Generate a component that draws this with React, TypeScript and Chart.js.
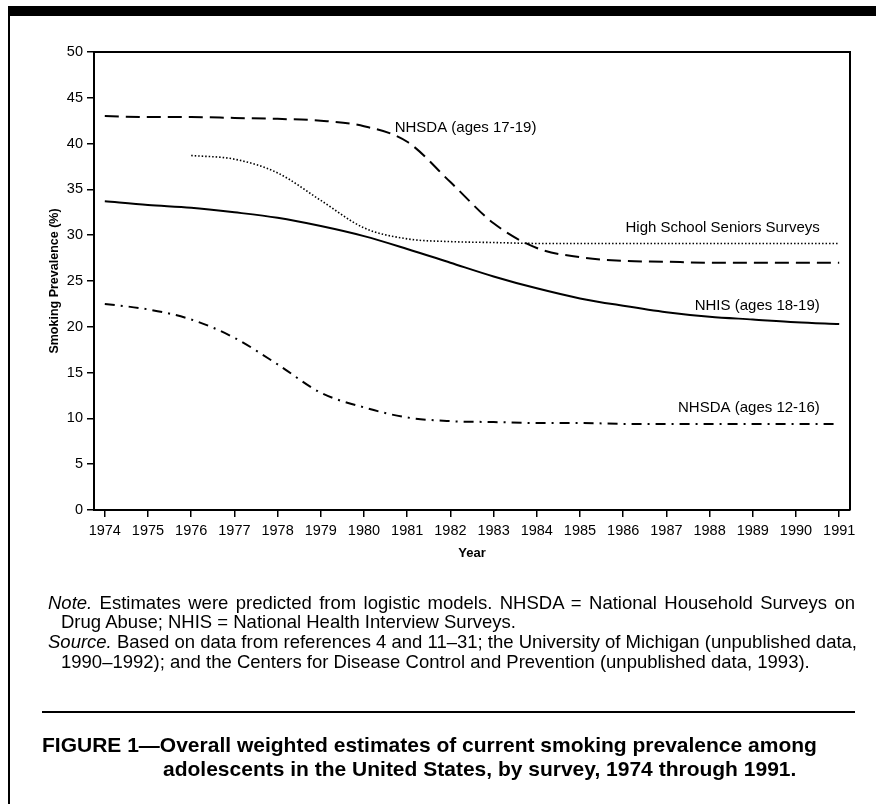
import React, { useEffect, useRef } from "react";
import { Chart, registerables } from "chart.js";

Chart.register(...registerables);

// ---------- data ----------
const years = [1974, 1975, 1976, 1977, 1978, 1979, 1980, 1981, 1982, 1983, 1984, 1985, 1986, 1987, 1988, 1989, 1990, 1991];
const hsYears = [1976, 1977, 1978, 1979, 1980, 1981, 1982, 1983, 1984, 1985, 1986, 1987, 1988, 1989, 1990, 1991];

const nhsda1719 = [43.0, 42.9, 42.9, 42.8, 42.7, 42.5, 41.9, 40.2, 35.8, 31.3, 28.6, 27.6, 27.2, 27.1, 27.0, 27.0, 27.0, 27.0];
const hsSeniors = [38.7, 38.3, 36.8, 33.8, 30.8, 29.6, 29.3, 29.2, 29.1, 29.1, 29.1, 29.1, 29.1, 29.1, 29.1, 29.1];
const nhis = [33.7, 33.3, 33.0, 32.5, 31.9, 31.0, 29.9, 28.5, 27.0, 25.5, 24.2, 23.1, 22.3, 21.6, 21.1, 20.8, 20.5, 20.3];
const nhsda1216 = [22.5, 21.9, 20.8, 18.8, 15.9, 12.8, 11.2, 10.1, 9.7, 9.6, 9.5, 9.5, 9.4, 9.4, 9.4, 9.4, 9.4, 9.4];

const yTickValues = [0, 5, 10, 15, 20, 25, 30, 35, 40, 45, 50];
const seriesNames = ["NHSDA (ages 17-19)", "High School Seniors Surveys", "NHIS (ages 18-19)", "NHSDA (ages 12-16)"];

// label anchors (data units) for the in-chart series labels
const labelAnchors = [
  { x: 1982.35, y: 41.7, align: "center" },
  { x: 1990.55, y: 30.8, align: "right" },
  { x: 1990.55, y: 22.3, align: "right" },
  { x: 1990.55, y: 11.2, align: "right" },
];

const FONT = "'Liberation Sans', Arial, Helvetica, sans-serif";

const toPoints = (xs: number[], ys: number[]) => xs.map((x, i) => ({ x, y: ys[i] }));

const frameAndLabels = {
  id: "frameAndLabels",
  afterDatasetsDraw(chart: any) {
    const { ctx, chartArea, scales } = chart;
    ctx.save();
    ctx.strokeStyle = "#000";
    ctx.lineWidth = 2;
    ctx.beginPath();
    ctx.moveTo(chartArea.left, chartArea.top);
    ctx.lineTo(chartArea.right, chartArea.top);
    ctx.lineTo(chartArea.right, chartArea.bottom);
    ctx.stroke();
    ctx.fillStyle = "#000";
    ctx.font = `15px ${FONT}`;
    ctx.textBaseline = "middle";
    seriesNames.forEach((name, i) => {
      const a = labelAnchors[i];
      ctx.textAlign = a.align;
      ctx.fillText(name, scales.x.getPixelForValue(a.x), scales.y.getPixelForValue(a.y));
    });
    ctx.restore();
  },
};

function ChartCanvas() {
  const ref = useRef<HTMLCanvasElement | null>(null);
  useEffect(() => {
    if (!ref.current) return;
    const chart = new Chart(ref.current, {
      type: "line",
      data: {
        datasets: [
          {
            label: seriesNames[0],
            data: toPoints(years, nhsda1719),
            borderColor: "#000",
            borderWidth: 2,
            borderDash: [14, 7],
            cubicInterpolationMode: "monotone",
            pointRadius: 0,
            fill: false,
          },
          {
            label: seriesNames[1],
            data: toPoints(hsYears, hsSeniors),
            borderColor: "#000",
            borderWidth: 1.6,
            borderDash: [1.5, 2],
            cubicInterpolationMode: "monotone",
            pointRadius: 0,
            fill: false,
          },
          {
            label: seriesNames[2],
            data: toPoints(years, nhis),
            borderColor: "#000",
            borderWidth: 2,
            cubicInterpolationMode: "monotone",
            pointRadius: 0,
            fill: false,
          },
          {
            label: seriesNames[3],
            data: toPoints(years, nhsda1216),
            borderColor: "#000",
            borderWidth: 2,
            borderDash: [10, 6, 2, 6],
            cubicInterpolationMode: "monotone",
            pointRadius: 0,
            fill: false,
          },
        ],
      },
      options: {
        responsive: false,
        animation: false,
        devicePixelRatio: 1,
        layout: { padding: { left: 0, top: 52, right: 26, bottom: 804 - 510 - 60 } },
        plugins: { legend: { display: false }, tooltip: { enabled: false } },
        elements: { point: { radius: 0 } },
        scales: {
          x: {
            type: "linear",
            min: 1973.75,
            max: 1991.25,
            afterFit: (s: any) => {
              s.height = 60;
            },
            ticks: {
              stepSize: 1,
              includeBounds: false,
              autoSkip: false,
              maxRotation: 0,
              color: "#000",
              padding: 5,
              font: { family: FONT, size: 14.5 },
              callback: (v: any) => String(v),
            },
            grid: { drawOnChartArea: false, tickLength: 7, color: "#000", lineWidth: 1.5 },
            border: { color: "#000", width: 2 },
            title: {
              display: true,
              text: "Year",
              color: "#000",
              font: { family: FONT, size: 13, weight: "bold" },
              padding: { top: 0, bottom: 9 },
            },
          },
          y: {
            min: 0,
            max: 50,
            afterFit: (s: any) => {
              s.width = 94;
            },
            afterBuildTicks: (s: any) => {
              s.ticks = yTickValues.map((v) => ({ value: v }));
            },
            ticks: {
              color: "#000",
              padding: 4,
              font: { family: FONT, size: 14.5 },
            },
            grid: { drawOnChartArea: false, tickLength: 7, color: "#000", lineWidth: 1.5 },
            border: { color: "#000", width: 2 },
            title: {
              display: true,
              text: "Smoking Prevalence (%)",
              color: "#000",
              font: { family: FONT, size: 12.5, weight: "bold" },
              padding: { top: 47, bottom: 0 },
            },
          },
        },
      },
      plugins: [frameAndLabels],
    } as any);
    return () => chart.destroy();
  }, []);
  return <canvas ref={ref} width={876} height={804} style={{ position: "absolute", left: 0, top: 0 }} />;
}

const noteStyle: React.CSSProperties = {
  position: "absolute",
  fontFamily: FONT,
  fontSize: 18.5,
  lineHeight: "20px",
  color: "#000",
  whiteSpace: "nowrap",
};

export default function App() {
  return (
    <div
      style={{
        position: "absolute",
        left: 0,
        top: 0,
        width: 876,
        height: 804,
        background: "#fff",
        overflow: "hidden",
      }}
    >
      <div style={{ position: "absolute", left: 8, top: 6, width: 868, height: 10, background: "#000" }} />
      <div style={{ position: "absolute", left: 8, top: 6, width: 2, height: 798, background: "#000" }} />
      <ChartCanvas />
      <div style={{ ...noteStyle, left: 48, top: 593, width: 807, textAlign: "justify", textAlignLast: "justify" }}>
        <i>Note.</i> Estimates were predicted from logistic models. NHSDA = National Household Surveys on
      </div>
      <div style={{ ...noteStyle, left: 61, top: 612 }}>Drug Abuse; NHIS = National Health Interview Surveys.</div>
      <div style={{ ...noteStyle, left: 48, top: 632, width: 807, textAlign: "justify", textAlignLast: "justify" }}>
        <i>Source.</i> Based on data from references 4 and 11–31; the University of Michigan (unpublished data,
      </div>
      <div style={{ ...noteStyle, left: 61, top: 652 }}>
        1990–1992); and the Centers for Disease Control and Prevention (unpublished data, 1993).
      </div>
      <div style={{ position: "absolute", left: 42, top: 711, width: 813, height: 2, background: "#000" }} />
      <div
        style={{
          position: "absolute",
          left: 42,
          top: 733,
          fontFamily: FONT,
          fontWeight: "bold",
          fontSize: 21,
          lineHeight: "24px",
          whiteSpace: "nowrap",
          color: "#000",
        }}
      >
        FIGURE 1—Overall weighted estimates of current smoking prevalence among
      </div>
      <div
        style={{
          position: "absolute",
          left: 163,
          top: 757,
          fontFamily: FONT,
          fontWeight: "bold",
          fontSize: 21,
          lineHeight: "24px",
          whiteSpace: "nowrap",
          color: "#000",
        }}
      >
        adolescents in the United States, by survey, 1974 through 1991.
      </div>
    </div>
  );
}
